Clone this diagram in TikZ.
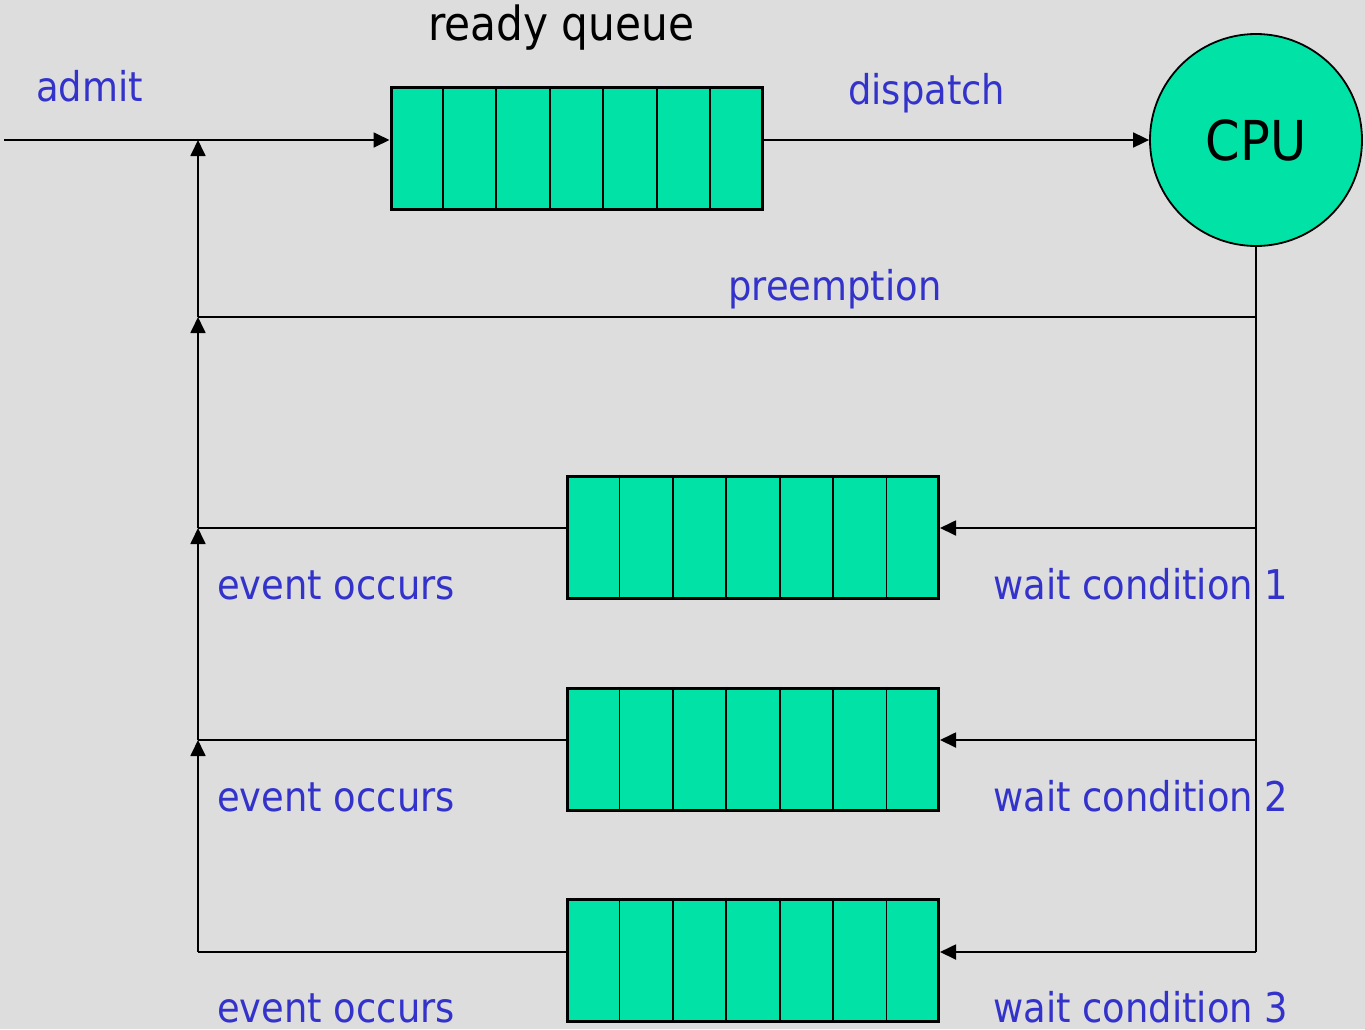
\documentclass[tikz,border=0pt]{standalone}
\usepackage{fontspec}
\setmainfont[FakeStretch=0.9]{DejaVu Sans}
\usetikzlibrary{arrows.meta,calc}
\definecolor{qgreen}{RGB}{0,226,166}
\definecolor{lblue}{RGB}{51,51,204}
\definecolor{bggray}{RGB}{221,221,221}

\begin{document}
\begin{tikzpicture}[x=1pt,y=-1pt,
  queue/.style={draw,line width=3pt,fill=qgreen,minimum width=371pt,minimum height=122pt,inner sep=0pt},
  flow/.style={line width=1.8pt,-{Triangle[length=16pt,width=15pt]}},
  wire/.style={line width=1.8pt},
  lbl/.style={text=lblue,font=\fontsize{41}{48}\selectfont,inner sep=0pt,anchor=base west}]
  \fill[bggray] (0,0) rectangle (1365,1029);
  \useasboundingbox (0,0) rectangle (1365,1029);
  % queues and cpu
  \node[queue] (ready) at (576.5,148.5) {};
  \node[queue] (wq1) at (753,537) {};
  \node[queue] (wq2) at (753,749) {};
  \node[queue] (wq3) at (753,960) {};
  \foreach \q in {ready,wq1,wq2,wq3}
    \foreach \i in {1,...,6}
      \draw[line width=1.8pt] ($(\q.north west)!\i/7!(\q.north east)$) -- ($(\q.south west)!\i/7!(\q.south east)$);
  \node[circle,draw,line width=1.8pt,fill=qgreen,minimum size=212pt,inner sep=0pt,font=\fontsize{55}{60}\selectfont] (cpu) at (1256,140) {CPU};
  % junctions
  \coordinate (in) at (4,140);
  \coordinate (ja) at (198,140);
  \coordinate (jp) at (198,317);
  \coordinate (rp) at (1256,317);
  \foreach \n/\y in {1/528,2/740,3/952} {
    \coordinate (l\n) at (198,\y);
    \coordinate (r\n) at (1256,\y);
  }
  % connectors
  \draw[flow] (in) -- (in -| ready.west);
  \draw[flow] (ready.east |- cpu) -- (cpu.west);
  \draw[wire] (cpu.south) -- (r3);
  \draw[wire] (rp) -- (jp);
  \draw[flow] (l3) -- (l2);
  \draw[flow] (l2) -- (l1);
  \draw[flow] (l1) -- (jp);
  \draw[flow] (jp) -- (ja);
  \foreach \n in {1,2,3} {
    \draw[flow] (r\n) -- (r\n -| wq\n.east);
    \draw[wire] (l\n -| wq\n.west) -- (l\n);
  }
  % labels
  \node[lbl,text=black,font=\fontsize{47}{54}\selectfont] (rqtext) at (428,40) {ready queue};
  \node[lbl] (admit) at (36,101) {admit};
  \node[lbl] (dispatch) at (848,104) {dispatch};
  \node[lbl] (preempt) at (728,300) {preemption};
  \foreach \n/\y in {1/599,2/811,3/1022} {
    \node[lbl] (ev\n) at (217,\y) {event occurs};
    \node[lbl] (wc\n) at (993,\y) {wait condition \n};
  }
\end{tikzpicture}
\end{document}
